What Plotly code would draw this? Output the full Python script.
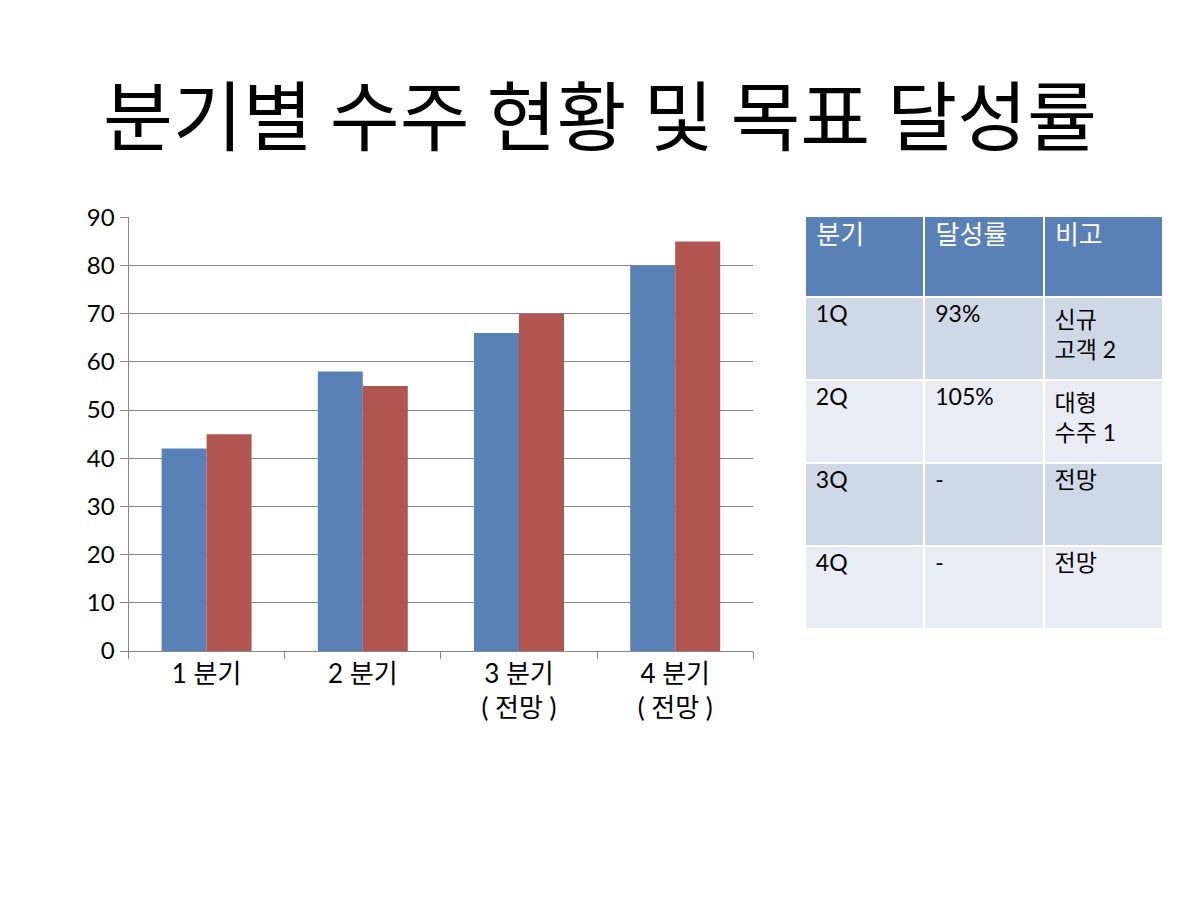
import plotly.graph_objects as go

categories = ["1 분기", "2 분기", "3 분기<br>( 전망 )", "4 분기<br>( 전망 )"]
series_a = [42, 58, 66, 80]
series_b = [45, 55, 70, 85]
y_ticks = [0, 10, 20, 30, 40, 50, 60, 70, 80, 90]

table_header = ["분기", "달성률", "비고"]
col_quarter = ["1Q", "2Q", "3Q", "4Q"]
col_rate = ["93%", "105%", "-", "-"]
col_note = ["신규<br>고객 2", "대형<br>수주 1", "전망", "전망"]

FONT = "Lato, 'Noto Sans CJK KR', sans-serif"
KFONT = "'Noto Sans CJK KR', sans-serif"
PAD = "\u2009"

def padded(vals):
    return [PAD + v.replace("<br>", "<br>" + PAD) for v in vals]

fig = go.Figure()
fig.add_trace(go.Bar(x=categories, y=series_a, marker=dict(color="#5A80B8", line=dict(width=0)), name="A"))
fig.add_trace(go.Bar(x=categories, y=series_b, marker=dict(color="#B05550", line=dict(width=0)), name="B"))

fig.add_trace(go.Table(
    domain=dict(x=[805/1200, 1163/1200], y=[0, 1 - 216/900]),
    columnwidth=[1, 1, 1],
    header=dict(values=padded(table_header), fill_color="#5A80B8", align="left",
                font=dict(family=FONT, size=26, color="white"), height=81,
                line=dict(color="white", width=2)),
    cells=dict(values=[padded(col_quarter), padded(col_rate), padded(col_note)],
               fill_color=[["#D0D8E7", "#E9ECF3", "#D0D8E7", "#E9ECF3"]] * 3,
               align="left", font=dict(family=FONT, size=23, color="black"),
               height=83, line=dict(color="white", width=2)),
))

fig.update_layout(
    width=1200, height=900,
    margin=dict(l=0, r=0, t=0, b=0),
    paper_bgcolor="white", plot_bgcolor="white",
    showlegend=False,
    barmode="group", bargap=0.424, bargroupgap=0,
    font=dict(family=FONT, color="black"),
    title=dict(text="분기별 수주 현황 및 목표 달성률", x=0.5, xanchor="center",
               y=1 - 118/900, yanchor="middle",
               font=dict(family=KFONT, size=76, color="black")),
    xaxis=dict(domain=[128.5/1200, 753.3/1200], showline=True, linecolor="#868686", linewidth=1,
               ticks="outside", tickson="boundaries", ticklen=7, tickcolor="#868686",
               tickfont=dict(family=FONT, size=26, color="black"), automargin=False),
    yaxis=dict(domain=[1 - 651/900, 1 - 217.3/900], range=[0, 90], tickvals=y_ticks,
               showgrid=True, gridcolor="#868686", gridwidth=1,
               showline=True, linecolor="#868686", linewidth=1,
               ticks="outside", ticklen=8, tickcolor="#868686",
               tickfont=dict(family=FONT, size=24, color="black"), zeroline=False,
               automargin=False),
)

fig.write_html("out.html")
